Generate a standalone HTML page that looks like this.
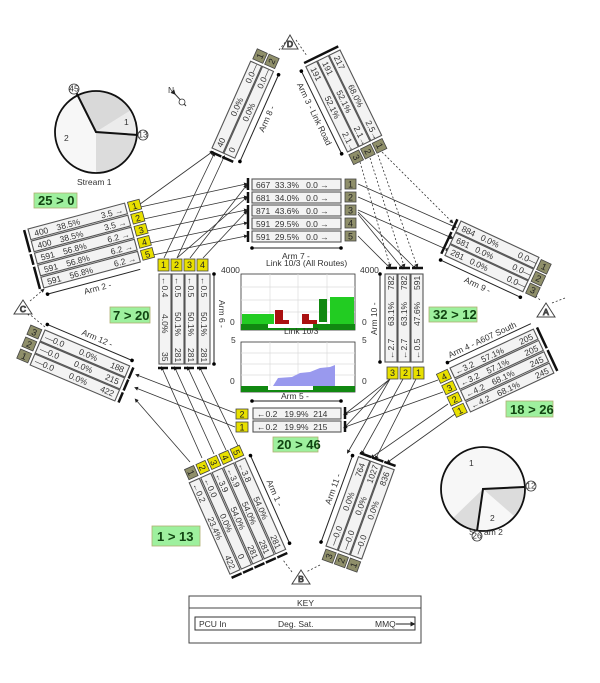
<!DOCTYPE html>
<html><head><meta charset="utf-8"><style>
html,body{margin:0;padding:0;background:#fff}
svg{display:block}
text{font-family:"Liberation Sans",sans-serif;font-size:8.5px;fill:#333;white-space:pre}
.ln{fill:#f3f3f3;stroke:#555;stroke-width:1.1}
.yb{fill:#e8e000;stroke:#444;stroke-width:0.8}
.ob{fill:#8f8f6a;stroke:#444;stroke-width:0.8}
.bx{font-size:9px;fill:#222;text-anchor:middle}
.c{stroke:#333;stroke-width:0.8;fill:none;marker-end:url(#ah)}
.d{stroke:#333;stroke-width:0.8;fill:none;stroke-dasharray:2,2;marker-end:url(#ah)}
.bar{stroke:#111;stroke-width:2.5}
.gl{fill:#9ef09e;stroke:#b0b070;stroke-width:0.8}
.gt{font-size:13px;font-weight:bold;fill:#114411}
.grid{stroke:#ddd;stroke-width:0.7}
</style></head><body>
<svg width="600" height="683" viewBox="0 0 600 683" xmlns="http://www.w3.org/2000/svg">
<defs>
<marker id="ah" viewBox="0 0 6 6" refX="3" refY="3" markerWidth="5" markerHeight="5" orient="auto"><path d="M0,0 L6,3 L0,6z" fill="#222"/></marker>
</defs>

<g>
<line class="c" x1="136" y1="208" x2="246" y2="184"/>
<line class="c" x1="139" y1="220" x2="246" y2="197"/>
<line class="c" x1="142" y1="232" x2="246" y2="210"/>
<line class="c" x1="145" y1="244" x2="246" y2="223"/>
<line class="c" x1="148" y1="256" x2="246" y2="236"/>
<line class="c" x1="136" y1="207" x2="212" y2="152"/>
<line class="c" x1="164" y1="258" x2="214" y2="154"/>
<line class="c" x1="177" y1="258" x2="224" y2="157"/>
<line class="c" x1="190" y1="258" x2="246" y2="186"/>
<line class="c" x1="203" y1="258" x2="246" y2="212"/>
<line class="c" x1="177" y1="258" x2="246" y2="198"/>
<line class="c" x1="358" y1="184" x2="455" y2="227"/>
<line class="c" x1="358" y1="197" x2="452" y2="238"/>
<line class="c" x1="358" y1="210" x2="448" y2="250"/>
<line class="c" x1="358" y1="212" x2="415" y2="268"/>
<line class="c" x1="358" y1="214" x2="402" y2="268"/>
<line class="c" x1="358" y1="236" x2="390" y2="268"/>
<line class="d" x1="360" y1="162" x2="390" y2="266"/>
<line class="d" x1="370" y1="158" x2="404" y2="266"/>
<line class="d" x1="378" y1="155" x2="417" y2="266"/>
<line class="d" x1="382" y1="152" x2="452" y2="222"/>
<line class="c" x1="390" y1="379" x2="345" y2="414"/>
<line class="c" x1="390" y1="379" x2="345" y2="427"/>
<line class="c" x1="403" y1="379" x2="362" y2="453"/>
<line class="c" x1="416" y1="379" x2="376" y2="458"/>
<line class="c" x1="390" y1="379" x2="348" y2="452"/>
<line class="c" x1="438" y1="380" x2="345" y2="414"/>
<line class="c" x1="443" y1="392" x2="345" y2="427"/>
<line class="c" x1="448" y1="404" x2="372" y2="457"/>
<line class="c" x1="455" y1="414" x2="388" y2="462"/>
<line class="c" x1="235" y1="413" x2="137" y2="375"/>
<line class="c" x1="235" y1="427" x2="136" y2="388"/>
<line class="c" x1="190" y1="462" x2="136" y2="400"/>
<line class="c" x1="202" y1="458" x2="162" y2="368"/>
<line class="c" x1="214" y1="454" x2="175" y2="368"/>
<line class="c" x1="226" y1="450" x2="188" y2="368"/>
<line class="c" x1="238" y1="446" x2="200" y2="368"/>
<line class="d" x1="45" y1="327" x2="28" y2="313"/>
<line class="d" x1="30" y1="301" x2="43" y2="290"/>
</g>
<path d="M279,50 L287,40 M296,40 L307,56" stroke="#333" stroke-width="0.8" stroke-dasharray="2,2"/>
<path d="M530,290 L540,300 M552,303 L565,298 M320,565 L306,572 M292,572 L283,560" stroke="#333" stroke-width="0.8" stroke-dasharray="2,2"/>

<g stroke="#444" stroke-width="1" fill="#fff">
<path d="M290,35 L282,49 L298,49 Z"/><text x="290" y="47" text-anchor="middle" font-size="8">D</text>
<path d="M546,303 L537,317 L555,317 Z"/><text x="546" y="315" text-anchor="middle" font-size="8">A</text>
<path d="M301,570 L292,584 L310,584 Z"/><text x="301" y="582" text-anchor="middle" font-size="8">B</text>
<path d="M23,300 L14,314 L32,314 Z"/><text x="23" y="312" text-anchor="middle" font-size="8">C</text>
</g>

<text x="168" y="93" font-size="8">N</text>
<path d="M174,93 L186,106" stroke="#333" stroke-width="1" marker-start="url(#ah)"/>
<circle cx="182" cy="102" r="3" fill="#fff" stroke="#333" stroke-width="0.8"/>

<circle cx="96" cy="132" r="41" fill="#f7f7f7"/>
<path d="M96,132 L78.7,94.8 A41,41 0 0 1 130.8,110.3 Z" fill="#d9d9d9"/>
<path d="M96,132 L130.8,110.3 A41,41 0 0 1 136.9,134.9 Z" fill="#ececec"/>
<path d="M96,132 L136.9,134.9 A41,41 0 0 1 96,173 Z" fill="#dcdcdc"/>
<circle cx="96" cy="132" r="41" fill="none" stroke="#111" stroke-width="1.8"/>
<path d="M76,92 L96,132 L138,135" stroke="#111" stroke-width="2" fill="none"/>
<circle cx="74" cy="89" r="5" fill="#fff" stroke="#333" stroke-width="0.8"/><text x="74" y="91.5" font-size="6" text-anchor="middle">45</text>
<circle cx="143" cy="135" r="5" fill="#fff" stroke="#333" stroke-width="0.8"/><text x="143" y="137.5" font-size="6" text-anchor="middle">13</text>
<text x="124" y="125">1</text><text x="64" y="141">2</text>
<text x="77" y="185">Stream 1</text>

<circle cx="483" cy="489" r="42" fill="#f7f7f7"/>
<path d="M483,489 L514,516 A42,42 0 0 0 523.9,486.8 Z" fill="#dcdcdc"/>
<path d="M483,489 L452.3,518.7 A42,42 0 0 0 476.9,530.7 Z" fill="#dcdcdc"/>
<circle cx="483" cy="489" r="42" fill="none" stroke="#111" stroke-width="1.8"/>
<path d="M524,487 L483,489 L477,531" stroke="#111" stroke-width="2" fill="none"/>
<circle cx="531" cy="486" r="5" fill="#fff" stroke="#333" stroke-width="0.8"/><text x="531" y="488.5" font-size="6" text-anchor="middle">12</text>
<text x="469" y="535">Str</text><text x="484" y="535">am 2</text>
<circle cx="477" cy="536" r="5" fill="#fff" stroke="#333" stroke-width="0.8"/><text x="477" y="538.5" font-size="6" text-anchor="middle">26</text>
<text x="469" y="466">1</text><text x="490" y="521">2</text>

<rect class="gl" x="34" y="193" width="43" height="15"/><text class="gt" x="38" y="205">25 &gt; 0</text>
<rect class="gl" x="110" y="307" width="40" height="16"/><text class="gt" x="113" y="320">7 &gt; 20</text>
<rect class="gl" x="429" y="307" width="48" height="15"/><text class="gt" x="433" y="319">32 &gt; 12</text>
<rect class="gl" x="506" y="401" width="47" height="16"/><text class="gt" x="510" y="414">18 &gt; 26</text>
<rect class="gl" x="273" y="437" width="45" height="15"/><text class="gt" x="277" y="449">20 &gt; 46</text>
<rect class="gl" x="152" y="526" width="48" height="20"/><text class="gt" x="157" y="541">1 &gt; 13</text>

<g>
<rect class="ln" x="252" y="179" width="89" height="11"/><text x="256" y="188">667  33.3%   0.0 →</text>
<rect class="ln" x="252" y="192" width="89" height="11"/><text x="256" y="201">681  34.0%   0.0 →</text>
<rect class="ln" x="252" y="205" width="89" height="11"/><text x="256" y="214">871  43.6%   0.0 →</text>
<rect class="ln" x="252" y="218" width="89" height="11"/><text x="256" y="227">591  29.5%   0.0 →</text>
<rect class="ln" x="252" y="231" width="89" height="11"/><text x="256" y="240">591  29.5%   0.0 →</text>
<path class="bar" d="M248,178 V190 M248,192 V203 M248,205 V229 M248,231 V242"/>
<rect class="ob" x="345" y="179" width="11" height="10"/><text class="bx" x="350.5" y="187.5">1</text>
<rect class="ob" x="345" y="192" width="11" height="10"/><text class="bx" x="350.5" y="200.5">2</text>
<rect class="ob" x="345" y="205" width="11" height="10"/><text class="bx" x="350.5" y="213.5">3</text>
<rect class="ob" x="345" y="218" width="11" height="10"/><text class="bx" x="350.5" y="226.5">4</text>
<rect class="ob" x="345" y="231" width="11" height="10"/><text class="bx" x="350.5" y="239.5">5</text>
<line x1="252" y1="248" x2="341" y2="248" stroke="#222"/><circle cx="252" cy="248" r="1.8"/><circle cx="341" cy="248" r="1.8"/>
<text x="282" y="259" font-size="9">Arm 7 -</text>
<text x="266" y="266" font-size="6.5">Link 10/3 (All Routes)</text>
</g>

<g>
<text x="221" y="273" font-size="6">4000</text><text x="360" y="273" font-size="6">4000</text>
<rect x="241" y="274" width="114" height="56" fill="#fff" stroke="#333" stroke-width="0.8"/>
<path class="grid" d="M270,274V324 M298,274V324 M327,274V324 M241,287H355 M241,300H355 M241,312H355"/>
<rect x="242" y="314" width="32" height="10" fill="#22cc22"/>
<rect x="275" y="310" width="8" height="14" fill="#aa1111"/><rect x="283" y="320" width="6" height="4" fill="#aa1111"/>
<rect x="302" y="314" width="7" height="10" fill="#aa1111"/><rect x="309" y="320" width="8" height="4" fill="#aa1111"/>
<rect x="319" y="299" width="8" height="23" fill="#118811"/>
<rect x="330" y="297" width="24" height="27" fill="#22cc22"/>
<rect x="241" y="324" width="114" height="6" fill="#118811"/><rect x="268" y="324" width="45" height="4" fill="#fff"/>
<text x="284" y="334" font-size="6">Link 10/3</text>
<text x="230" y="325" font-size="6">0</text><text x="362" y="325" font-size="6">0</text>
<text x="231" y="343" font-size="6">5</text><text x="362" y="343" font-size="6">5</text>
<rect x="241" y="342" width="114" height="50" fill="#fff" stroke="#333" stroke-width="0.8"/>
<path class="grid" d="M270,342V386 M298,342V386 M327,342V386 M241,353H355 M241,364H355 M241,375H355"/>
<path d="M273,386 L278,378 L292,377 L300,373 L310,372 L320,368 L330,367 L335,365 L335,386 Z" fill="#9999ee"/>
<rect x="241" y="386" width="114" height="6" fill="#118811"/><rect x="268" y="386" width="45" height="4" fill="#fff"/>
<text x="230" y="384" font-size="6">0</text><text x="362" y="384" font-size="6">0</text>
<text x="281" y="399" font-size="9">Arm 5 -</text>
<line x1="252" y1="401" x2="341" y2="401" stroke="#222"/><circle cx="252" cy="401" r="1.8"/><circle cx="341" cy="401" r="1.8"/>
</g>

<g>
<rect class="ln" x="253" y="408" width="88" height="11"/><text x="257" y="417">←0.2   19.9%  214</text>
<rect class="ln" x="253" y="421" width="88" height="11"/><text x="257" y="430">←0.2   19.9%  215</text>
<path class="bar" d="M345,407 V419 M345,421 V432"/>
<rect class="yb" x="236" y="409" width="12" height="10"/><text class="bx" x="242" y="417.5">2</text>
<rect class="yb" x="236" y="422" width="12" height="10"/><text class="bx" x="242" y="430.5">1</text>
</g>

<!-- Arm 6 -->
<g>
<rect class="yb" x="158" y="259" width="11" height="12"/><text class="bx" x="163.5" y="268">1</text>
<rect class="yb" x="171" y="259" width="11" height="12"/><text class="bx" x="176.5" y="268">2</text>
<rect class="yb" x="184" y="259" width="11" height="12"/><text class="bx" x="189.5" y="268">3</text>
<rect class="yb" x="197" y="259" width="11" height="12"/><text class="bx" x="202.5" y="268">4</text>
<g transform="translate(210,274) rotate(90)">
<rect class="ln" x="0" y="0" width="90" height="12"/><text y="9"><tspan x="3">←0.5</tspan><tspan x="38">50.1%</tspan><tspan x="74">281</tspan></text>
<rect class="ln" x="0" y="13" width="90" height="12"/><text y="22"><tspan x="3">←0.5</tspan><tspan x="38">50.1%</tspan><tspan x="74">281</tspan></text>
<rect class="ln" x="0" y="26" width="90" height="12"/><text y="35"><tspan x="3">←0.5</tspan><tspan x="38">50.1%</tspan><tspan x="74">281</tspan></text>
<rect class="ln" x="0" y="39" width="90" height="12"/><text y="48"><tspan x="3">←0.4</tspan><tspan x="40">4.0%</tspan><tspan x="78">35</tspan></text>
</g>
<path class="bar" d="M158,368 H168 M171,368 H181 M184,368 H194 M197,368 H207"/>
<line x1="214" y1="274" x2="214" y2="364" stroke="#222"/><circle cx="214" cy="274" r="1.8"/><circle cx="214" cy="364" r="1.8"/>
<text transform="translate(219,300) rotate(90)" font-size="9">Arm 6 -</text>
</g>

<!-- Arm 10 -->
<g>
<g transform="translate(385,362) rotate(-90)">
<rect class="ln" x="0" y="0" width="88" height="12"/><text y="9"><tspan x="3">←2.7</tspan><tspan x="36">63.1%</tspan><tspan x="72">782</tspan></text>
<rect class="ln" x="0" y="13" width="88" height="12"/><text y="22"><tspan x="3">←2.7</tspan><tspan x="36">63.1%</tspan><tspan x="72">782</tspan></text>
<rect class="ln" x="0" y="26" width="88" height="12"/><text y="35"><tspan x="3">←0.5</tspan><tspan x="36">47.6%</tspan><tspan x="72">591</tspan></text>
</g>
<path class="bar" d="M386,268 H397 M399,268 H410 M412,268 H423"/>
<rect class="yb" x="387" y="367" width="11" height="12"/><text class="bx" x="392.5" y="376">3</text>
<rect class="yb" x="400" y="367" width="11" height="12"/><text class="bx" x="405.5" y="376">2</text>
<rect class="yb" x="413" y="367" width="11" height="12"/><text class="bx" x="418.5" y="376">1</text>
<line x1="380" y1="274" x2="380" y2="362" stroke="#222"/><circle cx="380" cy="274" r="1.8"/><circle cx="380" cy="362" r="1.8"/>
<text transform="translate(377,335) rotate(-90)" font-size="9">Arm 10 -</text>
</g>

<!-- Arm 2 -->
<g transform="translate(28,229) rotate(-15)">
<rect class="ln" x="0" y="0" width="100" height="11"/><text y="9"><tspan x="5">400</tspan><tspan x="28">38.5%</tspan><tspan x="74">3.5 →</tspan></text>
<rect class="ln" x="0" y="12.5" width="100" height="11"/><text y="21.5"><tspan x="5">400</tspan><tspan x="28">38.5%</tspan><tspan x="74">3.5 →</tspan></text>
<rect class="ln" x="0" y="25" width="100" height="11"/><text y="34"><tspan x="5">591</tspan><tspan x="28">56.8%</tspan><tspan x="74">6.2 →</tspan></text>
<rect class="ln" x="0" y="37.5" width="100" height="11"/><text y="46.5"><tspan x="5">591</tspan><tspan x="28">56.8%</tspan><tspan x="74">6.2 →</tspan></text>
<rect class="ln" x="0" y="50" width="100" height="11"/><text y="59"><tspan x="5">591</tspan><tspan x="28">56.8%</tspan><tspan x="74">6.2 →</tspan></text>
<path class="bar" d="M-4,0 V23 M-4,25 V36 M-4,38 V61"/>
<rect class="yb" x="103" y="0" width="12" height="10"/><text class="bx" x="109" y="8.5">1</text>
<rect class="yb" x="103" y="12.5" width="12" height="10"/><text class="bx" x="109" y="21">2</text>
<rect class="yb" x="103" y="25" width="12" height="10"/><text class="bx" x="109" y="33.5">3</text>
<rect class="yb" x="103" y="37.5" width="12" height="10"/><text class="bx" x="109" y="46">4</text>
<rect class="yb" x="103" y="50" width="12" height="10"/><text class="bx" x="109" y="58.5">5</text>
<line x1="2" y1="68" x2="98" y2="68" stroke="#222"/><circle cx="2" cy="68" r="1.8"/>
<text x="38" y="78" font-size="9">Arm 2 -</text>
</g>

<!-- Arm 8 -->
<g transform="translate(212,148) rotate(-66)">
<rect class="ln" x="0" y="0" width="95" height="12"/><text y="9"><tspan x="4">40</tspan><tspan x="38">0.0%</tspan><tspan x="74">0.0—</tspan></text>
<rect class="ln" x="0" y="13" width="95" height="12"/><text y="22"><tspan x="4">0</tspan><tspan x="38">0.0%</tspan><tspan x="74">0.0—</tspan></text>
<path class="bar" d="M-4,0 V12 M-4,13 V25"/>
<rect class="ob" x="98" y="1" width="11" height="11"/><text class="bx" x="103.5" y="9.5">1</text>
<rect class="ob" x="98" y="14" width="11" height="11"/><text class="bx" x="103.5" y="22.5">2</text>
<line x1="-1" y1="31" x2="94" y2="31" stroke="#222"/><circle cx="-1" cy="31" r="1.8"/><circle cx="94" cy="31" r="1.8"/>
<text x="35" y="41" font-size="9">Arm 8 -</text>
</g>

<!-- Arm 3 -->
<g transform="translate(340,50) rotate(64)">
<rect class="ln" x="0" y="0" width="95" height="12"/><text y="9"><tspan x="4">217</tspan><tspan x="36">68.0%</tspan><tspan x="76">2.5→</tspan></text>
<rect class="ln" x="0" y="13" width="95" height="12"/><text y="22"><tspan x="4">191</tspan><tspan x="36">52.1%</tspan><tspan x="76">2.1→</tspan></text>
<rect class="ln" x="0" y="26" width="95" height="12"/><text y="35"><tspan x="4">191</tspan><tspan x="36">52.1%</tspan><tspan x="76">2.1→</tspan></text>
<path class="bar" d="M-4,0 V38"/>
<rect class="ob" x="98" y="1" width="11" height="11"/><text class="bx" x="103.5" y="9.5">1</text>
<rect class="ob" x="98" y="14" width="11" height="11"/><text class="bx" x="103.5" y="22.5">2</text>
<rect class="ob" x="98" y="27" width="11" height="11"/><text class="bx" x="103.5" y="35.5">3</text>
<line x1="2" y1="44" x2="94" y2="44" stroke="#222"/><circle cx="2" cy="44" r="1.8"/><circle cx="94" cy="44" r="1.8"/>
<text x="12" y="54" font-size="9">Arm 3 - Link Road</text>
</g>

<!-- Arm 9 -->
<g transform="translate(461,221) rotate(25)">
<rect class="ln" x="0" y="0" width="86" height="12"/><text y="9"><tspan x="4">884</tspan><tspan x="25">0.0%</tspan><tspan x="66">0.0—</tspan></text>
<rect class="ln" x="0" y="13" width="86" height="12"/><text y="22"><tspan x="4">681</tspan><tspan x="25">0.0%</tspan><tspan x="66">0.0—</tspan></text>
<rect class="ln" x="0" y="26" width="86" height="12"/><text y="35"><tspan x="4">281</tspan><tspan x="25">0.0%</tspan><tspan x="66">0.0—</tspan></text>
<path class="bar" d="M-4,0 V12 M-4,14 V38"/>
<rect class="ob" x="89" y="1" width="11" height="11"/><text class="bx" x="94.5" y="9.5">1</text>
<rect class="ob" x="89" y="14" width="11" height="11"/><text class="bx" x="94.5" y="22.5">2</text>
<rect class="ob" x="89" y="27" width="11" height="11"/><text class="bx" x="94.5" y="35.5">3</text>
<line x1="-2" y1="44" x2="86" y2="44" stroke="#222"/><circle cx="-2" cy="44" r="1.8"/><circle cx="86" cy="44" r="1.8"/>
<text x="28" y="54" font-size="9">Arm 9 -</text>
</g>

<!-- Arm 4 -->
<g transform="translate(450,368) rotate(-25)">
<rect class="ln" x="0" y="0" width="92" height="11"/><text y="9"><tspan x="3">←3.2</tspan><tspan x="32">57.1%</tspan><tspan x="74">205</tspan></text>
<rect class="ln" x="0" y="12.5" width="92" height="11"/><text y="21.5"><tspan x="3">←3.2</tspan><tspan x="32">57.1%</tspan><tspan x="74">205</tspan></text>
<rect class="ln" x="0" y="25" width="92" height="11"/><text y="34"><tspan x="3">←4.2</tspan><tspan x="32">68.1%</tspan><tspan x="74">245</tspan></text>
<rect class="ln" x="0" y="37.5" width="92" height="11"/><text y="46.5"><tspan x="3">←4.2</tspan><tspan x="32">68.1%</tspan><tspan x="74">245</tspan></text>
<path class="bar" d="M96,0 V23 M96,25 V48"/>
<rect class="yb" x="-15" y="0" width="12" height="10"/><text class="bx" x="-9" y="8.5">4</text>
<rect class="yb" x="-15" y="12.5" width="12" height="10"/><text class="bx" x="-9" y="21">3</text>
<rect class="yb" x="-15" y="25" width="12" height="10"/><text class="bx" x="-9" y="33.5">2</text>
<rect class="yb" x="-15" y="37.5" width="12" height="10"/><text class="bx" x="-9" y="46">1</text>
<line x1="0" y1="-6" x2="92" y2="-6" stroke="#222"/><circle cx="0" cy="-6" r="1.8"/>
<text x="4" y="-9" font-size="9">Arm 4 - A607 South</text>
</g>

<!-- Arm 11 -->
<g transform="translate(326,546) rotate(-70)">
<rect class="ln" x="0" y="0" width="95" height="12"/><text y="9"><tspan x="3">—0.0</tspan><tspan x="40">0.0%</tspan><tspan x="76">764</tspan></text>
<rect class="ln" x="0" y="13" width="95" height="12"/><text y="22"><tspan x="3">—0.0</tspan><tspan x="40">0.0%</tspan><tspan x="74">1027</tspan></text>
<rect class="ln" x="0" y="26" width="95" height="12"/><text y="35"><tspan x="3">—0.0</tspan><tspan x="40">0.0%</tspan><tspan x="76">836</tspan></text>
<path class="bar" d="M99,0 V12 M99,13 V25 M99,26 V38"/>
<rect class="ob" x="-14" y="1" width="11" height="11"/><text class="bx" x="-8.5" y="9.5">3</text>
<rect class="ob" x="-14" y="14" width="11" height="11"/><text class="bx" x="-8.5" y="22.5">2</text>
<rect class="ob" x="-14" y="27" width="11" height="11"/><text class="bx" x="-8.5" y="35.5">1</text>
<line x1="2" y1="-6" x2="94" y2="-6" stroke="#222"/><circle cx="2" cy="-6" r="1.8"/><circle cx="94" cy="-6" r="1.8"/>
<text x="40" y="-10" font-size="9">Arm 11 -</text>
</g>

<!-- Arm 1 -->
<g transform="translate(245,458) rotate(66)">
<rect class="ln" x="0" y="0" width="100" height="11"/><text y="9"><tspan x="3">←3.8</tspan><tspan x="40">54.0%</tspan><tspan x="82">281</tspan></text>
<rect class="ln" x="0" y="12.5" width="100" height="11"/><text y="21.5"><tspan x="3">←3.9</tspan><tspan x="40">54.0%</tspan><tspan x="82">281</tspan></text>
<rect class="ln" x="0" y="25" width="100" height="11"/><text y="34"><tspan x="3">←3.9</tspan><tspan x="40">54.0%</tspan><tspan x="82">281</tspan></text>
<rect class="ln" x="0" y="37.5" width="100" height="11"/><text y="46.5"><tspan x="3">←0.0</tspan><tspan x="42">0.0%</tspan><tspan x="86">0</tspan></text>
<rect class="ln" x="0" y="50" width="100" height="11"/><text y="59"><tspan x="3">←0.2</tspan><tspan x="40">23.4%</tspan><tspan x="82">422</tspan></text>
<path class="bar" d="M104,0 V11 M104,12.5 V23.5 M104,25 V36 M104,37.5 V48.5 M104,50 V61"/>
<rect class="yb" x="-14" y="0" width="11" height="10"/><text class="bx" x="-8.5" y="8.5">5</text>
<rect class="yb" x="-14" y="12.5" width="11" height="10"/><text class="bx" x="-8.5" y="21">4</text>
<rect class="yb" x="-14" y="25" width="11" height="10"/><text class="bx" x="-8.5" y="33.5">3</text>
<rect class="yb" x="-14" y="37.5" width="11" height="10"/><text class="bx" x="-8.5" y="46">2</text>
<rect class="ob" x="-14" y="50" width="11" height="10"/><text class="bx" x="-8.5" y="58.5">1</text>
<line x1="0" y1="-6" x2="96" y2="-6" stroke="#222"/><circle cx="0" cy="-6" r="1.8"/><circle cx="96" cy="-6" r="1.8"/>
<text x="30" y="-10" font-size="9">Arm 1 -</text>
</g>

<!-- Arm 12 -->
<g transform="translate(45,330) rotate(23)">
<rect class="ln" x="0" y="0" width="92" height="12"/><text y="9"><tspan x="3">—0.0</tspan><tspan x="40">0.0%</tspan><tspan x="74">188</tspan></text>
<rect class="ln" x="0" y="13" width="92" height="12"/><text y="22"><tspan x="3">—0.0</tspan><tspan x="40">0.0%</tspan><tspan x="74">215</tspan></text>
<rect class="ln" x="0" y="26" width="92" height="12"/><text y="35"><tspan x="3">—0.0</tspan><tspan x="40">0.0%</tspan><tspan x="74">422</tspan></text>
<path class="bar" d="M96,0 V12 M96,13 V25 M96,27 V38"/>
<rect class="ob" x="-15" y="1" width="12" height="10"/><text class="bx" x="-9" y="9.5">3</text>
<rect class="ob" x="-15" y="14" width="12" height="10"/><text class="bx" x="-9" y="22.5">2</text>
<rect class="ob" x="-15" y="27" width="12" height="10"/><text class="bx" x="-9" y="35.5">1</text>
<line x1="0" y1="-6" x2="92" y2="-6" stroke="#222"/><circle cx="0" cy="-6" r="1.8"/><circle cx="92" cy="-6" r="1.8"/>
<text x="35" y="-10" font-size="9">Arm 12 -</text>
</g>

<rect x="189" y="596" width="232" height="47" fill="#fff" stroke="#444" stroke-width="1"/>
<line x1="189" y1="608" x2="421" y2="608" stroke="#444"/>
<text x="297" y="606" font-size="8">KEY</text>
<rect x="195" y="617" width="220" height="13" fill="#fff" stroke="#333" stroke-width="1"/>
<text x="199" y="627" font-size="8">PCU In</text>
<text x="278" y="627" font-size="8">Deg. Sat.</text>
<text x="375" y="627" font-size="8">MMQ</text>
<line x1="396" y1="624" x2="413" y2="624" stroke="#222" marker-end="url(#ah)"/>
</svg>
</body></html>
